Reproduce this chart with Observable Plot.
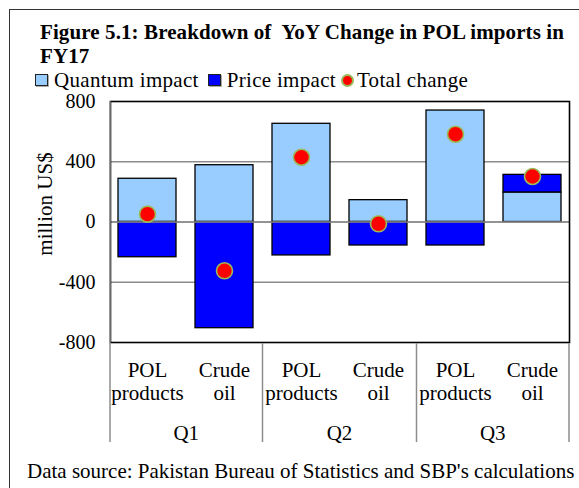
<!DOCTYPE html>
<html><head><meta charset="utf-8">
<script src="https://cdn.jsdelivr.net/npm/d3@7"></script>
<script src="https://cdn.jsdelivr.net/npm/@observablehq/plot@0.6"></script>
<style>
html,body{margin:0;padding:0;background:#fff;}
body{width:579px;height:488px;overflow:hidden;position:relative;font-family:"Liberation Serif","Times New Roman",serif;color:#000;}
#frame{position:absolute;left:9px;top:9px;width:640px;height:540px;border:1.5px solid #333;box-sizing:border-box;}
#title{position:absolute;left:40px;top:20px;font-weight:bold;font-size:21px;line-height:24px;white-space:pre;letter-spacing:0.1px;}
#legend{position:absolute;left:35px;top:72px;font-size:21px;line-height:16px;height:16px;white-space:nowrap;display:flex;align-items:center;letter-spacing:0.3px;}
#legend .item{display:flex;align-items:center;height:16px;}
#legend .sw{width:11px;height:10px;border:1.3px solid #222;box-shadow:1px 1px 0 #aaa;margin-right:6px;}
#legend .dot{width:9px;height:9px;border-radius:50%;border:2px solid #9BBB59;margin-right:3px;}
#chart{position:absolute;left:0;top:90px;}
#caption{position:absolute;left:27px;top:460px;font-size:21px;line-height:22px;white-space:nowrap;}
</style></head>
<body>
<div id="frame"></div>
<div id="title"></div>
<div id="legend"></div>
<div id="chart"></div>
<div id="caption"></div>
<script>
// ---- data ----
const titleLines = ["Figure 5.1: Breakdown of  YoY Change in POL imports in", "FY17"];
const captionText = "Data source: Pakistan Bureau of Statistics and SBP's calculations";
const yAxisTitle = "million US$";
const quarters = ["Q1", "Q1", "Q2", "Q2", "Q3", "Q3"];
const products = ["POL\nproducts", "Crude\noil", "POL\nproducts", "Crude\noil", "POL\nproducts", "Crude\noil"];
const quantumImpact = [287, 377, 652, 145, 740, 196];
const priceImpact = [-234, -705, -222, -156, -156, 117];
const totalChange = [52, -324, 430, -12, 583, 302];
const yTicks = [-800, -400, 0, 400, 800];
const seriesNames = ["Quantum impact", "Price impact", "Total change"];
const seriesColors = ["#99CCFF", "#0000FF", "#FF0000"];
const dotRing = "#9BBB59";

// ---- html text ----
document.getElementById("title").textContent = titleLines.join("\n");
document.getElementById("caption").textContent = captionText;
const legend = document.getElementById("legend");
const itemGaps = [9, 5, 0];
seriesNames.forEach((name, i) => {
  const item = document.createElement("span");
  item.className = "item";
  item.style.marginRight = itemGaps[i] + "px";
  const sw = document.createElement("span");
  sw.className = i < 2 ? "sw" : "dot";
  sw.style.background = seriesColors[i];
  item.appendChild(sw);
  const t = document.createElement("span");
  t.textContent = name;
  item.appendChild(t);
  legend.appendChild(item);
});

// ---- chart ----
const keys = quarters.map((q, i) => q + "|" + products[i]);
const barData = [];
keys.forEach((k, i) => {
  barData.push({key: k, series: seriesNames[0], value: quantumImpact[i]});
  barData.push({key: k, series: seriesNames[1], value: priceImpact[i]});
});
const dotData = keys.map((k, i) => ({key: k, value: totalChange[i]}));

const W = 579, H = 398, mL = 110, mR = 10, mT = 11, mB = 146;
const plot = Plot.plot({
  width: W, height: H,
  marginTop: mT, marginBottom: mB, marginLeft: mL, marginRight: mR,
  style: {fontFamily: "'Liberation Serif', 'Times New Roman', serif", fontSize: "21px", color: "#000", background: "transparent", overflow: "visible"},
  x: {domain: keys, paddingInner: 0.25, paddingOuter: 0.105, label: null, axis: null},
  y: {domain: [yTicks[0], yTicks[yTicks.length - 1]], label: null, axis: null},
  color: {domain: seriesNames.slice(0, 2), range: seriesColors.slice(0, 2)},
  marks: [
    Plot.ruleY(yTicks.slice(1, -1), {stroke: "#8c8c8c", strokeWidth: 1.3}),
    Plot.barY(barData, {x: "key", y: "value", fill: "series", stroke: "#000", strokeWidth: 1.3}),
    Plot.ruleY([0], {stroke: "#8c8c8c", strokeWidth: 1.3}),
    Plot.dot(dotData, {x: "key", y: "value", r: 8, fill: seriesColors[2], stroke: dotRing, strokeWidth: 1.6}),
    Plot.frame({stroke: "#000", strokeWidth: 1.6}),
    Plot.axisY({ticks: yTicks, tickSize: 0, tickPadding: 15, tickFormat: d => String(d), label: null, fontSize: 20, letterSpacing: 1.2}),
    Plot.axisX({tickSize: 0, tickPadding: 18, tickFormat: k => k.split("|")[1], lineHeight: 1.1, label: null, fontSize: 21}),
    Plot.text([yAxisTitle], {frameAnchor: "left", textAnchor: "middle", rotate: -90, dx: -65, dy: -18, fontSize: 21})
  ]
});
document.getElementById("chart").appendChild(plot);

// group axis (quarters) with separators, placed through the scales
const xs = plot.scale("x"), ys = plot.scale("y");
const svg = d3.select(plot);
const yBottom = ys.apply(yTicks[0]);
const yTop = ys.apply(yTicks[yTicks.length - 1]);
const groups = [...new Set(quarters)];
const bounds = [mL];
for (let g = 1; g < groups.length; g++) {
  const lastPrev = keys[quarters.lastIndexOf(groups[g - 1])];
  const firstCur = keys[quarters.indexOf(groups[g])];
  bounds.push((xs.apply(lastPrev) + xs.bandwidth + xs.apply(firstCur)) / 2);
}
bounds.push(W - mR);
const gsep = svg.append("g");
bounds.forEach((b, i) => {
  gsep.append("line")
    .attr("x1", b).attr("x2", b)
    .attr("y1", i === 0 ? yTop : yBottom + 1)
    .attr("y2", yBottom + 100)
    .attr("stroke", "#8c8c8c").attr("stroke-width", 1.5);
});
groups.forEach((q, i) => {
  gsep.append("text")
    .attr("x", (bounds[i] + bounds[i + 1]) / 2)
    .attr("y", yBottom + 98)
    .attr("text-anchor", "middle")
    .attr("font-size", 21)
    .attr("fill", "#000")
    .text(q);
});
</script>
</body></html>
